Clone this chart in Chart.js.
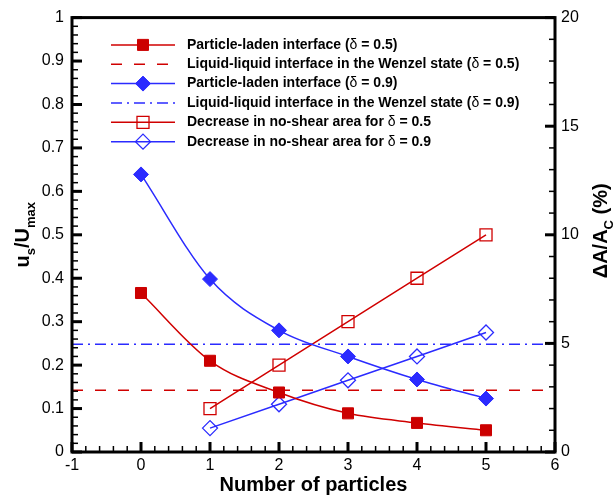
<!DOCTYPE html>
<html>
<head>
<meta charset="utf-8">
<script src="https://cdn.jsdelivr.net/npm/chart.js@4.4.1/dist/chart.umd.min.js"></script>
<style>
  html, body { margin: 0; padding: 0; background: #fff; }
  canvas { display: block; }
</style>
</head>
<body>
<canvas id="chart" width="614" height="499"></canvas>
<script>
// Slip velocity and no-shear area change vs. number of particles
const particles = [0, 1, 2, 3, 4, 5];
const slipHalf = [0.366, 0.21, 0.137, 0.089, 0.067, 0.05];
const slipNine = [0.639, 0.398, 0.28, 0.22, 0.167, 0.123];

const wenzelX = [-1, 6];
const wenzelHalf = [0.142, 0.142];
const wenzelNine = [0.248, 0.248];

const areaParticles = [1, 2, 3, 4, 5];
const areaHalf = [2, 4, 6, 8, 10];
const areaNine = [1.1, 2.2, 3.3, 4.4, 5.5];

const xTicks = { min: -1, max: 6, step: 1, minor: 0.2 };
const yTicks = { min: 0, max: 1, step: 0.1, minor: 0.02 };
const y2Ticks = { min: 0, max: 20, step: 5, minor: 1 };

const RED = "#d00000";
const BLUE = "#2b2bff";
const FONT = "'Liberation Sans', Arial, sans-serif";

const pts = (xs, ys) => xs.map((x, i) => ({ x: x, y: ys[i] }));

// inward tick marks along one side of the plot frame
function drawTickMarks(ctx, scale, cfg, area, side) {
  const n = Math.round((cfg.max - cfg.min) / cfg.minor);
  const ratio = Math.round(cfg.step / cfg.minor);
  for (let i = 0; i <= n; i++) {
    const v = cfg.min + i * cfg.minor;
    const major = i % ratio === 0;
    const len = major ? 10 : 6;
    ctx.lineWidth = major ? 3 : 1.5;
    const p = scale.getPixelForValue(v);
    ctx.beginPath();
    if (side === "bottom") {
      ctx.moveTo(p, area.bottom);
      ctx.lineTo(p, area.bottom - len);
    } else if (side === "left") {
      ctx.moveTo(area.left, p);
      ctx.lineTo(area.left + len, p);
    } else {
      ctx.moveTo(area.right, p);
      ctx.lineTo(area.right - len, p);
    }
    ctx.stroke();
  }
}

// text made of [string, isSubscript] pieces, centred on the origin
function drawRichText(ctx, parts, size) {
  const widths = parts.map(([s, sub]) => {
    ctx.font = `bold ${sub ? Math.round(size * 0.65) : size}px ${FONT}`;
    return ctx.measureText(s).width;
  });
  let x = -widths.reduce((a, b) => a + b, 0) / 2;
  parts.forEach(([s, sub], i) => {
    ctx.font = `bold ${sub ? Math.round(size * 0.65) : size}px ${FONT}`;
    ctx.fillText(s, x, sub ? size * 0.32 : 0);
    x += widths[i];
  });
}

const framePlugin = {
  id: "frame",
  afterDraw(chart) {
    const { ctx, chartArea: a, scales } = chart;
    ctx.save();
    ctx.strokeStyle = "#000";
    ctx.lineCap = "butt";
    drawTickMarks(ctx, scales.x, xTicks, a, "bottom");
    drawTickMarks(ctx, scales.y, yTicks, a, "left");
    drawTickMarks(ctx, scales.y2, y2Ticks, a, "right");
    ctx.lineWidth = 3;
    ctx.strokeRect(a.left, a.top, a.right - a.left, a.bottom - a.top);

    // axis titles
    ctx.fillStyle = "#000";
    ctx.textBaseline = "alphabetic";
    ctx.textAlign = "left";
    ctx.save();
    ctx.translate((a.left + a.right) / 2, 491);
    drawRichText(ctx, [["Number of particles", false]], 20);
    ctx.restore();

    ctx.save();
    ctx.translate(29, (a.top + a.bottom) / 2);
    ctx.rotate(-Math.PI / 2);
    drawRichText(ctx, [["u", false], ["s", true], ["/U", false], ["max", true]], 20);
    ctx.restore();

    ctx.save();
    ctx.translate(607, (a.top + a.bottom) / 2 - 4);
    ctx.rotate(-Math.PI / 2);
    drawRichText(ctx, [["\u0394A/A", false], ["C", true], [" (%)", false]], 20);
    ctx.restore();
    ctx.restore();
  },
};

// legend in the upper-left corner: line sample, marker, label
const legendPlugin = {
  id: "cornerLegend",
  afterDraw(chart) {
    const { ctx, chartArea: a } = chart;
    const x0 = a.left + 39, x1 = a.left + 103, xm = (x0 + x1) / 2, xt = a.left + 115;
    ctx.save();
    chart.data.datasets.forEach((ds, i) => {
      const y = a.top + 27.3 + i * 19.35;
      ctx.strokeStyle = ds.borderColor;
      ctx.lineWidth = ds.borderWidth;
      ctx.setLineDash(ds.borderDash || []);
      ctx.beginPath();
      ctx.moveTo(x0, y);
      ctx.lineTo(x1, y);
      ctx.stroke();
      ctx.setLineDash([]);
      if (ds.pointRadius > 0) {
        ctx.fillStyle = ds.pointBackgroundColor;
        ctx.strokeStyle = ds.pointBorderColor;
        ctx.lineWidth = ds.pointBorderWidth;
        Chart.helpers.drawPoint(ctx, {
          pointStyle: ds.pointStyle,
          radius: ds.pointRadius,
          rotation: 0,
          borderWidth: ds.pointBorderWidth,
        }, xm, y);
      }
      // delta sign is set in regular weight, the rest bold
      ctx.fillStyle = "#000";
      ctx.textBaseline = "middle";
      ctx.textAlign = "left";
      let x = xt;
      ds.label.split(/(\u03b4)/).forEach((seg) => {
        ctx.font = seg === "\u03b4" ? `14px ${FONT}` : `bold 14px ${FONT}`;
        ctx.fillText(seg, x, y);
        x += ctx.measureText(seg).width;
      });
    });
    ctx.restore();
  },
};

const tickFont = { family: FONT, size: 16 };

new Chart(document.getElementById("chart"), {
  type: "line",
  data: {
    datasets: [
      {
        label: "Particle-laden interface (\u03b4 = 0.5)",
        data: pts(particles, slipHalf),
        yAxisID: "y",
        borderColor: RED,
        borderWidth: 1.5,
        cubicInterpolationMode: "monotone",
        pointStyle: "rect",
        pointRadius: 7.8,
        pointBackgroundColor: "#cc0000",
        pointBorderColor: "#cc0000",
        pointBorderWidth: 1,
      },
      {
        label: "Liquid-liquid interface in the Wenzel state (\u03b4 = 0.5)",
        data: pts(wenzelX, wenzelHalf),
        yAxisID: "y",
        borderColor: RED,
        borderWidth: 1.5,
        borderDash: [11, 12],
        pointRadius: 0,
      },
      {
        label: "Particle-laden interface (\u03b4 = 0.9)",
        data: pts(particles, slipNine),
        yAxisID: "y",
        borderColor: BLUE,
        borderWidth: 1.5,
        cubicInterpolationMode: "monotone",
        pointStyle: "rectRot",
        pointRadius: 7.5,
        pointBackgroundColor: BLUE,
        pointBorderColor: BLUE,
        pointBorderWidth: 1,
      },
      {
        label: "Liquid-liquid interface in the Wenzel state (\u03b4 = 0.9)",
        data: pts(wenzelX, wenzelNine),
        yAxisID: "y",
        borderColor: BLUE,
        borderWidth: 1.5,
        borderDash: [11, 5, 2, 5],
        pointRadius: 0,
      },
      {
        label: "Decrease in no-shear area for \u03b4 = 0.5",
        data: pts(areaParticles, areaHalf),
        yAxisID: "y2",
        borderColor: RED,
        borderWidth: 1.5,
        tension: 0,
        pointStyle: "rect",
        pointRadius: 8.5,
        pointBackgroundColor: "rgba(0,0,0,0)",
        pointBorderColor: RED,
        pointBorderWidth: 1.3,
      },
      {
        label: "Decrease in no-shear area for \u03b4 = 0.9",
        data: pts(areaParticles, areaNine),
        yAxisID: "y2",
        borderColor: BLUE,
        borderWidth: 1.5,
        tension: 0,
        pointStyle: "rectRot",
        pointRadius: 7.5,
        pointBackgroundColor: "rgba(0,0,0,0)",
        pointBorderColor: BLUE,
        pointBorderWidth: 1.3,
      },
    ],
  },
  options: {
    responsive: false,
    animation: false,
    devicePixelRatio: 1,
    layout: { padding: { top: 12, left: 0, right: 0, bottom: 0 } },
    plugins: {
      legend: { display: false },
      tooltip: { enabled: false },
    },
    scales: {
      x: {
        type: "linear",
        min: xTicks.min,
        max: xTicks.max,
        grid: { display: false, drawTicks: false },
        border: { display: false },
        ticks: { stepSize: xTicks.step, font: tickFont, color: "#000", padding: 4 },
        afterFit: (s) => { s.height = 47; },
      },
      y: {
        position: "left",
        min: yTicks.min,
        max: yTicks.max,
        grid: { display: false, drawTicks: false },
        border: { display: false },
        ticks: {
          stepSize: yTicks.step,
          font: tickFont,
          color: "#000",
          padding: 8,
          callback: (v) => String(+v.toFixed(2)),
        },
        afterFit: (s) => { s.width = 72; },
      },
      y2: {
        position: "right",
        min: y2Ticks.min,
        max: y2Ticks.max,
        grid: { display: false, drawTicks: false },
        border: { display: false },
        ticks: { stepSize: y2Ticks.step, font: tickFont, color: "#000", padding: 6 },
        afterFit: (s) => { s.width = 59; },
      },
    },
  },
  plugins: [framePlugin, legendPlugin],
});
</script>
</body>
</html>
